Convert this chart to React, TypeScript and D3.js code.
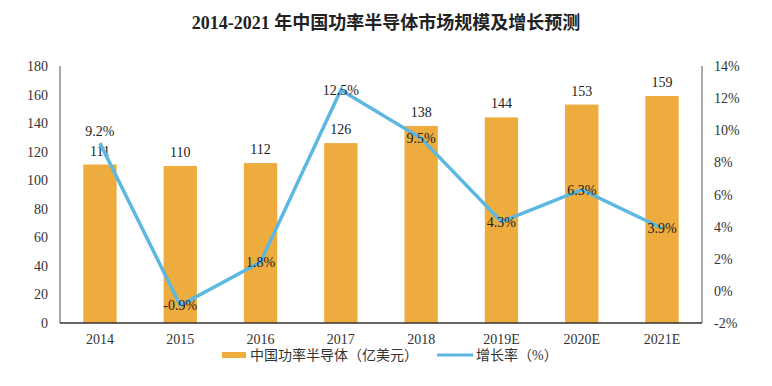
import React from "react";
import * as d3 from "d3";

const categories = ["2014", "2015", "2016", "2017", "2018", "2019E", "2020E", "2021E"];
const marketSize = [111, 110, 112, 126, 138, 144, 153, 159];
const growthRate = [9.2, -0.9, 1.8, 12.5, 9.5, 4.3, 6.3, 3.9];
const leftTicks = [0, 20, 40, 60, 80, 100, 120, 140, 160, 180];
const rightTicks = [-2, 0, 2, 4, 6, 8, 10, 12, 14];

const W = 772;
const H = 386;
const left = 60;
const right = 702;
const top = 66;
const bottom = 323;
const serif = "'Liberation Serif', 'Times New Roman', 'Noto Sans CJK SC', serif";
const cjk = "'Liberation Serif', 'Noto Sans CJK SC', serif";

export default function App() {
  const x = d3.scaleBand<string>().domain(categories).range([left, right]).paddingInner(0.585).paddingOuter(0.29);
  const yL = d3.scaleLinear().domain([0, 180]).range([bottom, top]);
  const yR = d3.scaleLinear().domain([-2, 14]).range([bottom, top]);
  const cx = (c: string) => (x(c) as number) + x.bandwidth() / 2;
  const line = d3
    .line<number>()
    .x((_, i) => cx(categories[i]))
    .y((d) => yR(d));

  return (
    <svg width={W} height={H} style={{ position: "absolute", left: 0, top: 0, background: "#fff" }}>
      <text x={386} y={29} textAnchor="middle" fontFamily={cjk} fontWeight="bold" fontSize={18} fill="#222">
        2014-2021 年中国功率半导体市场规模及增长预测
      </text>

      {categories.map((c, i) => (
        <rect key={c} x={x(c)} y={yL(marketSize[i])} width={x.bandwidth()} height={bottom - yL(marketSize[i])} fill="#EEAC3E" />
      ))}

      {/* axes */}
      <line x1={left} x2={left} y1={top} y2={bottom} stroke="#555" strokeWidth={1} />
      <line x1={right} x2={right} y1={top} y2={bottom} stroke="#555" strokeWidth={1} />
      <line x1={left} x2={right} y1={bottom} y2={bottom} stroke="#333" strokeWidth={1.5} />

      {leftTicks.map((t) => (
        <text key={t} x={48} y={yL(t) + 5} textAnchor="end" fontFamily={serif} fontSize={14} fill="#333">
          {t}
        </text>
      ))}
      {rightTicks.map((t) => (
        <text key={t} x={714} y={yR(t) + 5} textAnchor="start" fontFamily={serif} fontSize={14} fill="#333">
          {t}%
        </text>
      ))}
      {categories.map((c) => (
        <text key={c} x={cx(c)} y={bottom + 21} textAnchor="middle" fontFamily={serif} fontSize={14} fill="#333">
          {c}
        </text>
      ))}

      {categories.map((c, i) => (
        <text key={c} x={cx(c)} y={yL(marketSize[i]) - 9} textAnchor="middle" fontFamily={serif} fontSize={14} fill="#222">
          {marketSize[i]}
        </text>
      ))}

      <path d={line(growthRate) || ""} fill="none" stroke="#5DB8E0" strokeWidth={3.5} strokeLinejoin="miter" />

      {categories.map((c, i) => (
        <text
          key={c}
          x={cx(c)}
          y={i === 0 ? yR(growthRate[i]) - 7 : yR(growthRate[i]) + 5}
          textAnchor="middle"
          fontFamily={serif}
          fontSize={14}
          fill="#222"
        >
          {growthRate[i].toFixed(1)}%
        </text>
      ))}

      {/* legend */}
      <rect x={222} y={352} width={24} height={6} fill="#EEAC3E" />
      <text x={250} y={360} fontFamily={cjk} fontSize={14} fill="#333">
        中国功率半导体（亿美元）
      </text>
      <line x1={437} x2={473} y1={355} y2={355} stroke="#5DB8E0" strokeWidth={3} />
      <text x={476} y={360} fontFamily={cjk} fontSize={14} fill="#333">
        增长率（%）
      </text>
    </svg>
  );
}
